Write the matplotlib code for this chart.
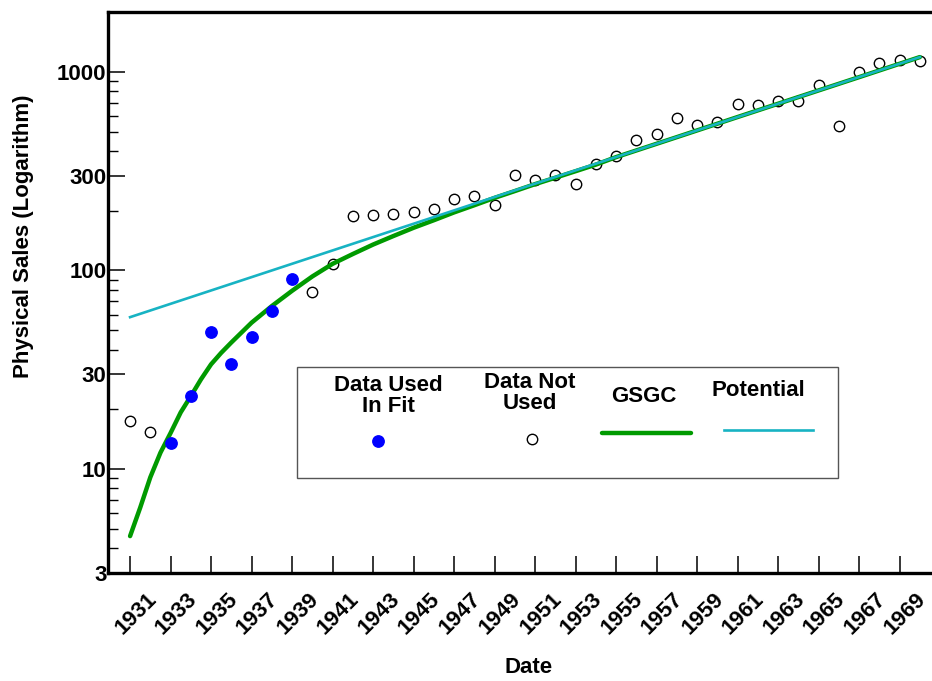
import matplotlib
matplotlib.use("Agg")
import matplotlib.pyplot as plt
import matplotlib.transforms as mtransforms
from matplotlib.lines import Line2D
from matplotlib.patches import Rectangle
from matplotlib.ticker import FixedLocator, FixedFormatter, LogLocator, NullFormatter

plt.rcParams['font.family'] = ['Liberation Sans', 'DejaVu Sans']
plt.rcParams['font.weight'] = 'bold'

# sales points that went into the fit
fit_years = [1933, 1934, 1935, 1936, 1937, 1938, 1939]
fit_sales = [13.5, 23.3, 49.2, 33.8, 46.5, 62.2, 90.3]

# sales points left out of the fit
other_years = [1931, 1932, 1940, 1941, 1942, 1943, 1944, 1945, 1946, 1947,
               1948, 1949, 1950, 1951, 1952, 1953, 1954, 1955, 1956, 1957,
               1958, 1959, 1960, 1961, 1962, 1963, 1964, 1965, 1966, 1967,
               1968, 1969, 1970]
other_sales = [17.4, 15.3, 78.3, 108, 189, 191, 193, 196, 204, 229,
               236, 214, 303, 287, 304, 273, 344, 378, 454, 488,
               587, 542, 559, 688, 678, 710, 710, 857, 536, 992,
               1113, 1140, 1136]

# GSGC model curve
gsgc_years = [1931, 1931.5, 1932, 1932.5, 1933, 1933.5, 1934, 1934.5, 1935, 1935.5,
              1936, 1937, 1938, 1939, 1940, 1941, 1942, 1943, 1944, 1945,
              1946, 1947, 1948, 1949, 1950, 1951, 1952, 1953, 1954, 1955,
              1958, 1961, 1964, 1967, 1970]
gsgc_sales = [4.6, 6.4, 9.1, 12.1, 15.2, 19.3, 23.3, 28.3, 33.7, 38.5,
              43.4, 54.6, 66.2, 79, 93.3, 108, 121, 135, 149, 164,
              179, 196, 213, 232, 251, 272, 293, 316, 341, 372,
              469, 592, 746, 940, 1186]

# potential (power) model
pot_years = [1931, 1950, 1970]
pot_sales = [58.2, 253, 1186]

year_ticks = list(range(1931, 1970, 2))
sales_ticks = [3, 10, 30, 100, 300, 1000]

W, H = 932, 681
fig = plt.figure(figsize=(W / 100, H / 100), dpi=100)
ax = fig.add_axes([108 / W, (H - 573) / H, (W - 108) / W, (573 - 12) / H])

ax.plot(other_years, other_sales, 'o', ms=7.5, mfc='none', mec='black', mew=1.0, zorder=2)
ax.plot(gsgc_years, gsgc_sales, '-', color='#009a00', lw=3.2, zorder=3,
        solid_capstyle='round', solid_joinstyle='round')
ax.plot(pot_years, pot_sales, '-', color='#17b3c3', lw=1.9, zorder=4)
ax.plot(fit_years, fit_sales, 'o', ms=8.2, color='#0000ff', mec='#0000ff', zorder=5)

ax.set_yscale('log')
ax.set_ylim(3, 2000)
ax.set_xlim(1929.91, 1970.6)

ax.yaxis.set_major_locator(FixedLocator(sales_ticks))
ax.yaxis.set_major_formatter(FixedFormatter([str(v) for v in sales_ticks]))
ax.yaxis.set_minor_locator(LogLocator(base=10, subs=(2, 4, 5, 6, 7, 8, 9)))
ax.yaxis.set_minor_formatter(NullFormatter())
ax.set_xticks(year_ticks)
ax.set_xticklabels([str(y) for y in year_ticks], rotation=45, ha='center')

ax.tick_params(axis='both', which='major', direction='in', length=12, width=1.1,
               labelsize=16)
ax.tick_params(axis='y', which='minor', direction='in', length=7, width=1.0)
ax.tick_params(axis='y', which='major', pad=1, left=True, right=False)
ax.tick_params(axis='x', which='major', pad=11, top=False)
ax.tick_params(axis='x', which='minor', bottom=False, top=False)

# nudge the slanted year labels a little to the right
shift = mtransforms.ScaledTranslation(6 / 100, 0, fig.dpi_scale_trans)
for lab in ax.get_xticklabels():
    lab.set_transform(lab.get_transform() + shift)

for side in ['left', 'bottom', 'top']:
    ax.spines[side].set_linewidth(2.4)
ax.spines['right'].set_visible(False)

ax.set_xlabel('Date', fontsize=16, fontweight='bold')
ax.xaxis.set_label_coords((529 - 108) / (W - 108), -(657 - 573) / (573 - 12))
ax.set_ylabel('Physical Sales (Logarithm)', fontsize=16, fontweight='bold')
ax.yaxis.set_label_coords(-(108 - 34) / (W - 108), (573 - 236) / (573 - 12))


def fx(px):
    return px / W


def fy(py):
    return 1 - py / H


# hand-built key box
box = Rectangle((fx(297), fy(478)), fx(838) - fx(297), fy(367) - fy(478),
                transform=fig.transFigure, fill=False, ec='#555555', lw=1.0, zorder=6)
fig.add_artist(box)

fig.text(fx(388), fy(396), 'Data Used\nIn Fit', ha='center', va='center',
         fontsize=16, fontweight='bold', linespacing=1.0)
fig.text(fx(530), fy(393), 'Data Not\nUsed', ha='center', va='center',
         fontsize=16, fontweight='bold', linespacing=1.0)
fig.text(fx(644), fy(397), 'GSGC', ha='center', va='center', fontsize=16, fontweight='bold')
fig.text(fx(758), fy(390), 'Potential', ha='center', va='center', fontsize=16, fontweight='bold')

fig.add_artist(Line2D([fx(378)], [fy(441)], marker='o', ms=8.2, color='#0000ff',
                      linestyle='none', transform=fig.transFigure))
fig.add_artist(Line2D([fx(532)], [fy(439)], marker='o', ms=7.5, mfc='none', mec='black',
                      mew=1.0, linestyle='none', transform=fig.transFigure))
fig.add_artist(Line2D([fx(602), fx(691)], [fy(433), fy(433)], color='#009a00', lw=3.2,
                      solid_capstyle='round', transform=fig.transFigure))
fig.add_artist(Line2D([fx(724), fx(813)], [fy(430), fy(430)], color='#17b3c3', lw=1.9,
                      transform=fig.transFigure))

fig.savefig('out.png', dpi=100)
